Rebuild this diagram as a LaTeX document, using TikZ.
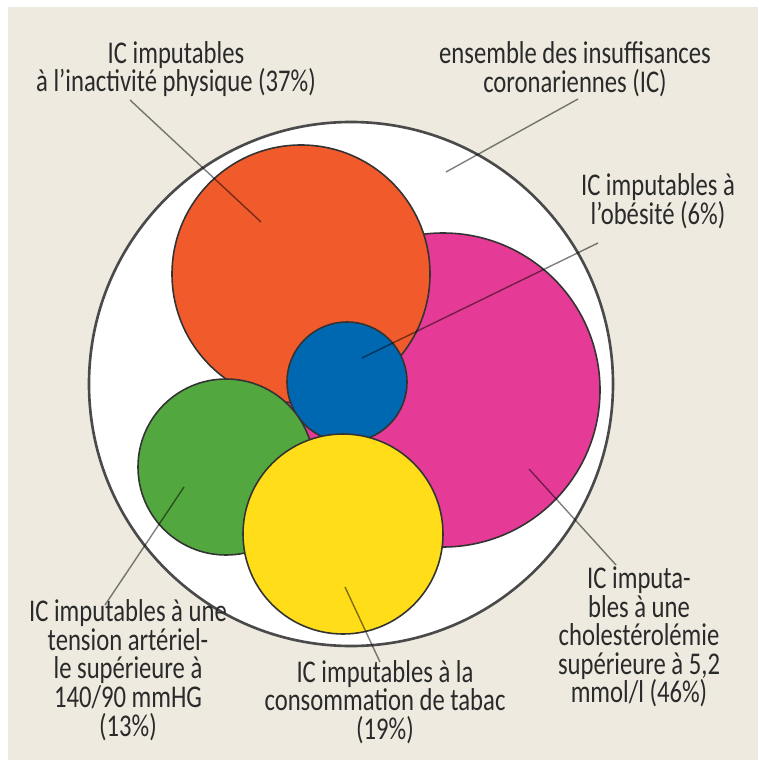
\documentclass[tikz,border=0pt]{standalone}
\usepackage{fontspec}
\setmainfont{Carlito}[FakeStretch=0.78]
\usepackage{tikz}
\usetikzlibrary{positioning}
\definecolor{Sand}{HTML}{EEEAE0}
\definecolor{Ring}{HTML}{4A4A4A}
\definecolor{Edge}{HTML}{333333}
\definecolor{Ink}{HTML}{2A2A2A}
\definecolor{Orange}{HTML}{F15A2B}
\definecolor{Magenta}{HTML}{E53B96}
\definecolor{Blue}{HTML}{0067B1}
\definecolor{Green}{HTML}{52A83E}
\definecolor{Yellow}{HTML}{FFDD19}
\tikzset{
  riskset/.style={draw=Edge,line width=0.9pt},
  leader/.style={line width=0.8pt,draw=black,draw opacity=0.5},
  caption/.style={align=center,text=Ink,inner sep=0pt,font=\fontsize{18}{16.3}\selectfont},
}

\begin{document}
\begin{tikzpicture}[x=0.02cm,y=-0.02cm]
    \useasboundingbox (0,0) rectangle (758,760);
    \fill[white] (0,0) rectangle (758,760);
    \fill[Sand] (8,7) rectangle (758,760);

    \filldraw[fill=white,draw=Ring,line width=1.5pt] (351,384) circle[radius=262];
    \filldraw[riskset,fill=Magenta] (443,390) circle[radius=157];
    \filldraw[riskset,fill=Orange] (301,274) circle[radius=129];
    \filldraw[riskset,fill=Blue] (347,382) circle[radius=60];
    \filldraw[riskset,fill=Green] (226,467) circle[radius=88];
    \filldraw[riskset,fill=Yellow] (343,534) circle[radius=100];

    \node[caption] (inact) at (176,69) {IC imputables\\à l’inactivité physique (37\%)};
    \node[caption] (ensemble) at (575,69) {ensemble des insuffisances\\coronariennes (IC)};
    \node[caption] (obes) at (658,201) {IC imputables à\\l’obésité (6\%)};
    \node[caption] (tension) at (128,670) {IC imputables à une\\tension artériel-\\le supérieure à\\140/90 mmHG\\(13\%)};
    \node[caption] (tabac) at (385,702) {IC imputables à la\\consommation de tabac\\(19\%)};
    \node[caption] (chol) at (639,637) {IC imputa-\\bles à une\\cholestérolémie\\supérieure à 5,2\\mmol/l (46\%)};

    \coordinate (inactA) at (130,100);
    \coordinate (inactB) at (261,222);
    \coordinate (ensembleA) at (578,99);
    \coordinate (ensembleB) at (446,172);
    \coordinate (obesA) at (598,243);
    \coordinate (obesB) at (362,358);
    \coordinate (tensionA) at (105,605);
    \coordinate (tensionB) at (184,487);
    \coordinate (tabacA) at (380,662);
    \coordinate (tabacB) at (345,587);
    \coordinate (cholA) at (616,565);
    \coordinate (cholB) at (529,469);

    \draw[leader] (inactA) -- (inactB);
    \draw[leader] (ensembleA) -- (ensembleB);
    \draw[leader] (obesA) -- (obesB);
    \draw[leader] (tensionA) -- (tensionB);
    \draw[leader] (tabacA) -- (tabacB);
    \draw[leader] (cholA) -- (cholB);
  \end{tikzpicture}
\end{document}
